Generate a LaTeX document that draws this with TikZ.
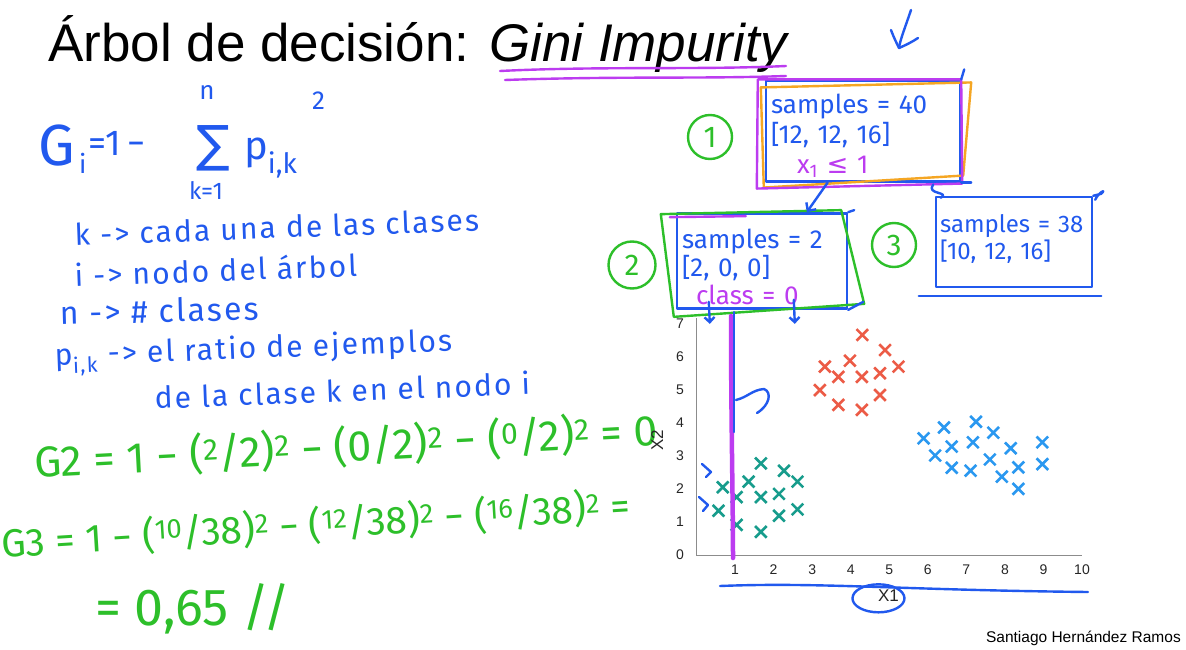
\documentclass[tikz,border=0pt]{standalone}
\usepackage{fontspec}
\setmainfont{Liberation Sans}
\newfontfamily\handfont{Fira Sans}
\newfontfamily\handwide{Fira Sans}[LetterSpace=7]
\newfontfamily\symfont{DejaVu Sans}
\usetikzlibrary{calc,shapes.misc,arrows.meta}
\definecolor{inkblue}{HTML}{2159EE}
\definecolor{inkgreen}{HTML}{2DBF2A}
\definecolor{inkpink}{HTML}{BC3CF0}
\definecolor{inkorange}{HTML}{F5A623}
\definecolor{dotred}{HTML}{EC5B46}
\definecolor{dotteal}{HTML}{179C8C}
\definecolor{dotblue}{HTML}{2A98F0}
\newcommand\topstrut[1]{\rule{0pt}{#1}}
\tikzset{
  ink/.style={line width=2.4pt, line cap=round, line join=round},
  blueink/.style={ink, draw=inkblue},
  greenink/.style={ink, draw=inkgreen},
  pinkink/.style={ink, draw=inkpink},
  orangeink/.style={ink, draw=inkorange},
  handtext/.style={anchor=base west, inner sep=0pt},
  bluehand/.style={handtext, text=inkblue, font=\handwide\fontsize{30}{34}\selectfont},
  greenhand/.style={handtext, text=inkgreen, font=\handfont\fontsize{40}{44}\selectfont},
  treebox/.style={blueink, text=inkblue, align=left, inner xsep=5pt, inner ysep=4pt,
    font=\handfont\fontsize{26}{30}\selectfont},
  numcircle/.style={circle, greenink, text=inkgreen, minimum size=44pt, inner sep=0pt,
    font=\handfont\fontsize{30}{30}\selectfont},
  datax/.style={cross out, draw=#1, line width=2.6pt, minimum size=9pt, inner sep=0pt},
  ticklabel/.style={font=\fontsize{14}{14}\selectfont, text=black!85, inner sep=0pt},
  axisline/.style={draw=black!45, line width=0.8pt},
}
\begin{document}
\begin{tikzpicture}[x=1pt, y=-1pt]
\useasboundingbox (0,0) rectangle (1186,650);
\fill[white] (0,0) rectangle (1186,650);

% title
\node[anchor=base west, inner sep=0pt, font=\fontsize{53}{60}\selectfont] (title) at (48,62)
  {Árbol de decisión: \textit{Gini Impurity}};
\draw[pinkink] (500,71) .. controls (600,66) and (700,70) .. (786,66);
\draw[pinkink] (505,80) .. controls (620,76) and (700,79) .. (786,76);
\draw[blueink] (911,10) .. controls (906,25) and (900,40) .. (899,48);
\draw[blueink] (891,30) .. controls (894,38) and (897,44) .. (899,48) .. controls (906,45) and (912,42) .. (918,38);

% gini formula
\node[bluehand, font=\handfont\fontsize{58}{60}\selectfont] (gG) at (38,165) {G};
\node[bluehand, font=\handfont\fontsize{26}{26}\selectfont] (gsub) at (79,174) {i};
\node[bluehand, font=\handfont\fontsize{36}{36}\selectfont] (geq) at (88,156) {=1\,−};
\node[text=inkblue, inner sep=0pt, font=\symfont\fontsize{50}{50}\selectfont] (gsum) at (213,148) {∑};
\node[text=inkblue, inner sep=0pt, font=\handfont\fontsize{26}{26}\selectfont] (gtop) at (207,92) {n};
\node[text=inkblue, inner sep=0pt, font=\handfont\fontsize{24}{24}\selectfont] (gbot) at (206,190) {k=1};
\node[bluehand, font=\handfont\fontsize{40}{40}\selectfont] (gp) at (244,160) {p\textsubscript{i,k}};
\node[bluehand, font=\handfont\fontsize{26}{26}\selectfont] (gsq) at (312,110) {2};

% legend of the symbols
\node[bluehand, rotate=2.2] (lk) at (75,246) {k -> cada una de las clases};
\node[bluehand, rotate=2.2] (li) at (75,287) {i -> nodo del árbol};
\node[bluehand, rotate=1.5, font=\handwide\fontsize{32}{36}\selectfont] (ln) at (60,325) {n -> \# clases};
\node[bluehand, rotate=2.2] (lp) at (55,366) {p\textsubscript{i,k} -> el ratio de ejemplos};
\node[bluehand, rotate=2.2] (lc) at (155,409) {de la clase k en el nodo i};

% worked values
\node[greenhand, rotate=3, font=\handfont\fontsize{43}{46}\selectfont] (g2) at (35,478)
  {G2 = 1 − (\textsuperscript{2}/2)\textsuperscript{2} − (0/2)\textsuperscript{2} − (\textsuperscript{0}/2)\textsuperscript{2} = 0};
\node[greenhand, rotate=3.5, font=\handfont\fontsize{39}{44}\selectfont] (g3) at (2,558)
  {G3 = 1 − (\textsuperscript{10}/38)\textsuperscript{2} − (\textsuperscript{12}/38)\textsuperscript{2} − (\textsuperscript{16}/38)\textsuperscript{2} =};
\node[greenhand, font=\handfont\fontsize{52}{52}\selectfont] (g65) at (95,625) {= 0,65 //};

% tree
\node[treebox, text width=184pt] (n1) at (863,131)
  {\topstrut{29pt}samples = 40\\{[12, 12, 16]}\\\hspace*{26pt}\textcolor{inkpink}{x\textsubscript{1} {\symfont ≤} 1}};
\node[treebox, text width=160pt, font=\handfont\fontsize{26}{28}\selectfont] (n2) at (762,261)
  {\topstrut{31pt}samples = 2\\{[2, 0, 0]}\\\hspace*{14pt}\textcolor{inkpink}{class = 0}};
\node[treebox, text width=148pt, inner xsep=4pt, font=\handfont\fontsize{24}{27}\selectfont] (n3) at (1014,242)
  {\topstrut{31pt}samples = 38\\{[10, 12, 16]}\rule[-24pt]{0pt}{0pt}};
\node[numcircle] (c1) at (710,137) {1};
\node[numcircle, minimum size=47pt] (c2) at (632,265) {2};
\node[numcircle] (c3) at (894,245) {3};

\draw[orangeink] ($(n1.north west)+(-4,8)$) -- ($(n1.north east)+(10,3)$)
  -- ($(n1.south east)+(2,-7)$) -- ($(n1.south west)+(-1,5)$) -- cycle;
\draw[pinkink] ($(n1.north west)+(-7,0)$) -- (n1.north east) -- ($(n1.south east)+(1,1)$)
  -- ($(n1.south west)+(-8,6)$) -- cycle;
\draw[blueink] ($(n1.north east)+(3,-10)$) -- (n1.north east);
\draw[blueink] (n1.south east) -- ++(10,0);
\draw[greenink] ($(n2.north west)+(-15,2)$) -- ($(n2.north east)+(-7,-2)$)
  -- ($(n2.south east)+(16,-6)$) -- ($(n2.south west)+(-2,7)$) -- cycle;
\draw[pinkink] ($(n2.north west)+(-6,5)$) -- ($(n2.north west)+(70,4)$);
\draw[blueink] (n2.north east) -- ++(6,-2);
\draw[blueink] (n2.south east) -- ++(15,-8);
\draw[blueink] (n3.north east) -- ++(8,-2) .. controls +(6,-6) and +(3,-7) .. ++(-6,6);
\draw[blueink] ($(n3.south west)+(-16,8)$) -- ($(n3.south east)+(8,8)$);

\draw[blueink, -{Straight Barb[length=6pt]}] ($(n1.south west)!0.32!(n1.south east)$)
  -- ($(n2.north west)!0.76!(n2.north east)$);
\draw[blueink] ($(n1.south east)+(-28,2)$) .. controls +(-8,10) and +(10,-6) .. ($(n3.north west)+(6,2)$);
\draw[blueink, -{Straight Barb[length=5pt]}] ($(n2.south west)+(33,-8)$) -- ++(1,22);
\draw[blueink, -{Straight Barb[length=5pt]}] ($(n2.south west)+(118,-10)$) -- ++(1,24);

% scatter plot
\begin{scope}[shift={(696.5,555)}, x=38.55pt, y=33.05pt]
  \draw[axisline] (0,7.17) -- (0,0) -- (10,0);
  \foreach \k in {0,...,7} \node[ticklabel] (ty\k) at (-0.43,\k) {\k};
  \foreach \k in {1,...,10} \node[ticklabel] (tx\k) at (\k,-0.45) {\k};
  \node[ticklabel, font=\fontsize{17}{17}\selectfont, rotate=90] (ylab) at (-1.02,3.48) {X2};
  \node[ticklabel, font=\fontsize{17}{17}\selectfont] (xlab) at (4.98,-1.22) {X1};
  \foreach \px/\py [count=\i] in {4.3/6.66, 4.89/6.2, 5.24/5.7, 3.33/5.7, 3.98/5.88, 3.68/5.39,
      4.29/5.39, 4.76/5.5, 3.2/4.99, 4.76/4.84, 3.68/4.54, 4.29/4.39}
    \node[datax=dotred] (r\i) at (\px,\py) {};
  \foreach \px/\py [count=\i] in {1.67/2.77, 2.27/2.55, 2.62/2.22, 1.35/2.22, 0.68/2.05, 1.04/1.75,
      1.67/1.75, 2.14/1.85, 0.57/1.34, 1.04/0.91, 1.67/0.7, 2.14/1.19, 2.62/1.38}
    \node[datax=dotteal] (t\i) at (\px,\py) {};
  \foreach \px/\py [count=\i] in {5.89/3.53, 6.42/3.86, 7.25/4.03, 7.7/3.7, 8.15/3.23, 8.97/3.41,
      6.19/3.01, 6.62/3.28, 7.17/3.41, 7.61/2.89, 8.35/2.65, 8.97/2.75, 6.62/2.64, 7.11/2.55,
      7.92/2.37, 8.35/2.0}
    \node[datax=dotblue] (b\i) at (\px,\py) {};
\end{scope}

% split drawn over the plot
\draw[pinkink, line width=4.5pt] (731,316) .. controls (731,420) and (733,500) .. (733,558);
\draw[blueink] (734,312) -- (734,432);
\draw[blueink] (736,400) .. controls (748,397) and (752,390) .. (764,389)
  .. controls (772,392) and (770,405) .. (757,413);
\draw[blueink] (702,464) -- (711,472) -- (706,477);
\draw[blueink] (699,497) -- (708,505) -- (703,511);
\draw[blueink] (720,586) .. controls (820,582) and (900,590) .. (1088,592);
\draw[blueink] ($(xlab.center)+(-10,3)$) ellipse [x radius=26, y radius=14];

\node[anchor=base east, inner sep=0pt, font=\fontsize{15.5}{16}\selectfont] (author) at (1181,642)
  {Santiago Hernández Ramos};
\end{tikzpicture}
\end{document}
